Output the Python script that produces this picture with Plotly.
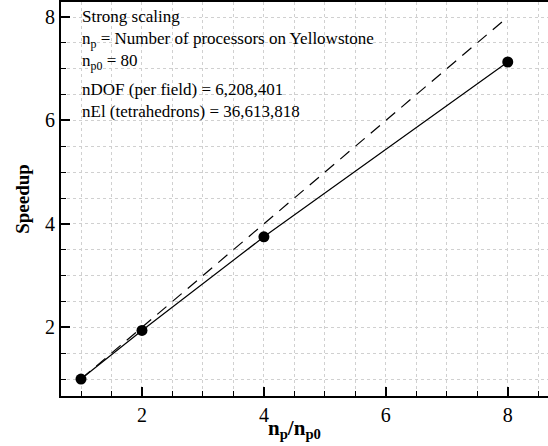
import plotly.graph_objects as go

ratio = [1, 2, 4, 8]
speedup = [1.0, 1.94, 3.75, 7.13]
ideal_x = [1, 8]
ideal_y = [1, 8]
tick_vals = [2, 4, 6, 8]
info_top = ("Strong scaling<br>"
            "n<sub>p</sub> = Number of processors on Yellowstone<br>"
            "n<sub>p0</sub> = 80")
info_bottom = ("nDOF (per field) = 6,208,401<br>"
               "nEl (tetrahedrons) = 36,613,818")

FONT = "'Liberation Serif', 'Times New Roman', Times, serif"

fig = go.Figure()
fig.add_trace(go.Scatter(x=ideal_x, y=ideal_y, mode="lines",
                         line=dict(color="black", width=1.2, dash="12px,8px"),
                         showlegend=False, hoverinfo="skip"))
fig.add_trace(go.Scatter(x=ratio, y=speedup, mode="lines+markers",
                         line=dict(color="black", width=1.2),
                         marker=dict(color="black", size=11),
                         showlegend=False))

grid_minor = dict(ticklen=5, tickcolor="black", tickwidth=1, dtick=0.5,
                  showgrid=True, gridcolor="#d0d0d0", griddash="dot", gridwidth=1,
                  ticks="inside")

fig.update_xaxes(range=[0.672, 8.66], tickvals=tick_vals, ticks="inside", ticklen=9,
                 tickwidth=2, tickcolor="black",
                 showline=True, linecolor="black", linewidth=2, mirror=True,
                 showgrid=True, gridcolor="#d0d0d0", griddash="dot", gridwidth=1,
                 minor=grid_minor, zeroline=False,
                 tickfont=dict(family=FONT, size=20, color="black"))
fig.update_yaxes(range=[0.672, 8.29], tickvals=tick_vals, ticks="inside", ticklen=9,
                 tickwidth=2, tickcolor="black",
                 showline=True, linecolor="black", linewidth=2, mirror=False,
                 showgrid=True, gridcolor="#d0d0d0", griddash="dot", gridwidth=1,
                 minor=grid_minor, zeroline=False,
                 tickfont=dict(family=FONT, size=20, color="black"),
                 title=dict(text="<b>Speedup</b>",
                            font=dict(family=FONT, size=19, color="black"), standoff=10))

fig.add_annotation(xref="paper", yref="paper", x=0.04, y=0.9924, xanchor="left", yanchor="top",
                   align="left", showarrow=False,
                   font=dict(family=FONT, size=17, color="black"), text=info_top)
fig.add_annotation(xref="paper", yref="paper", x=0.04, y=0.807, xanchor="left", yanchor="top",
                   align="left", showarrow=False,
                   font=dict(family=FONT, size=17, color="black"), text=info_bottom)

fig.add_annotation(xref="paper", yref="paper", x=0.48, y=-0.083, xanchor="center", yanchor="middle",
                   showarrow=False, font=dict(family=FONT, size=21, color="black"),
                   text="<b>n<sub>p</sub>/n<sub>p0</sub></b>")

fig.update_layout(width=548, height=446, margin=dict(l=61, r=0, t=2, b=50),
                  plot_bgcolor="white", paper_bgcolor="white")
fig.write_html("out.html")
